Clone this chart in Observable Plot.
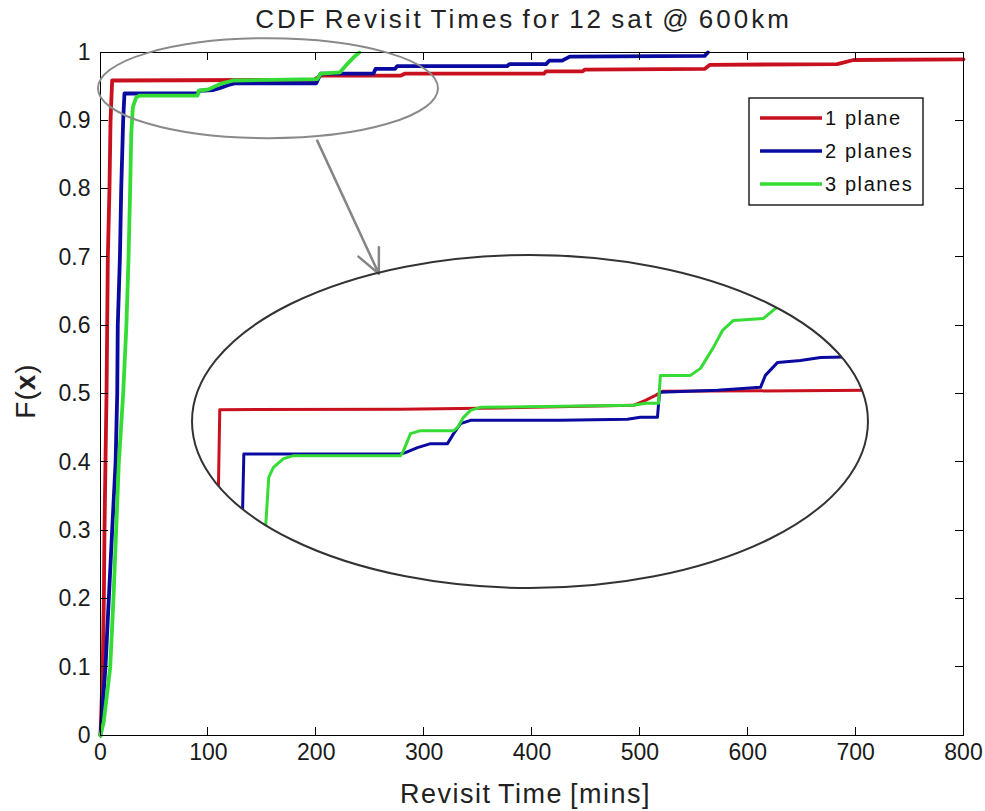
<!DOCTYPE html>
<html>
<head>
<meta charset="utf-8">
<script src="https://cdn.jsdelivr.net/npm/d3@7"></script>
<script src="https://cdn.jsdelivr.net/npm/@observablehq/plot@0.6"></script>
<style>
  body { margin: 0; background: #fff; }
</style>
</head>
<body>
<div id="chart"></div>
<script>
// Axis ticks
const xTicks = [0, 100, 200, 300, 400, 500, 600, 700, 800];
const yTicks = [0, 0.1, 0.2, 0.3, 0.4, 0.5, 0.6, 0.7, 0.8, 0.9, 1];

// Series
const seriesNames = ["1 plane", "2 planes", "3 planes"];
const seriesColors = ["#c8101e", "#0a0aa0", "#35dc35"];

// Empirical CDFs of revisit time: [minutes, F(x)]
const plane1 = [
  [0, 0], [2.1, 0.1], [3.1, 0.2], [3.7, 0.3], [4.6, 0.4], [5.6, 0.5], [6.2, 0.6], [6.8, 0.7],
  [8.3, 0.8], [9.3, 0.9], [10.8, 0.959], [198, 0.960], [204, 0.966], [278, 0.966], [282, 0.969],
  [411, 0.969], [413, 0.9725], [447, 0.9725], [449, 0.975], [560, 0.976], [565, 0.982],
  [683, 0.983], [698, 0.989], [800, 0.99]
];
const plane2 = [
  [0, 0], [4.6, 0.1], [7.7, 0.2], [10.8, 0.3], [14, 0.4], [15.5, 0.5], [16, 0.6], [18, 0.7],
  [19.2, 0.8], [21, 0.9], [22.2, 0.94], [90, 0.94], [92, 0.944], [104, 0.945], [111, 0.948],
  [118, 0.952], [125, 0.955], [200, 0.955], [204, 0.969], [253, 0.969], [255, 0.976], [273, 0.976],
  [275, 0.98], [377, 0.98], [379, 0.983], [413, 0.983], [416, 0.988], [428, 0.988], [435, 0.994],
  [560, 0.995], [563, 1]
];
const plane3 = [
  [0, 0], [3, 0.02], [9, 0.1], [12, 0.2], [14.5, 0.3], [17, 0.4], [21, 0.5], [24, 0.6], [26, 0.7],
  [27.5, 0.8], [28.5, 0.88], [30, 0.92], [33, 0.934], [36, 0.937], [90, 0.937], [91, 0.944],
  [100, 0.946], [111, 0.954], [123, 0.959], [201, 0.961], [204, 0.969], [222, 0.971],
  [228.7, 0.983], [236, 0.995], [240, 1]
];

// Magnified view of the upper-left corner
const zoomX = [0, 320];
const zoomY = [0.9, 1.0];
const zoomPlane1 = [
  [10.5, 0.90], [12.3, 0.9315], [12.9, 0.9537], [98.5, 0.9538], [145.8, 0.9542], [208.8, 0.955],
  [214.4, 0.9565], [219.2, 0.958], [222.5, 0.9592], [320, 0.9595]
];
const zoomPlane2 = [
  [23.0, 0.90], [23.7, 0.9234], [24.3, 0.9404], [98.5, 0.9404], [100.8, 0.9408], [106.5, 0.9423],
  [112.7, 0.9435], [120.7, 0.9435], [123.6, 0.9465], [126.9, 0.9495], [131.6, 0.9505],
  [174.2, 0.9505], [205.9, 0.9508], [212, 0.9514], [220.1, 0.9514], [221.1, 0.9589],
  [248.5, 0.9595], [268.9, 0.9604], [271.2, 0.964], [277, 0.9679], [287.8, 0.9685],
  [297.3, 0.9694], [320, 0.9697]
];
const zoomPlane3 = [
  [33.8, 0.90], [34.6, 0.9184], [36.1, 0.9334], [38.3, 0.9364], [43.1, 0.939], [47.8, 0.9399],
  [98.5, 0.9399], [99.9, 0.9414], [103.2, 0.9465], [107.9, 0.9474], [123.6, 0.9474],
  [125.4, 0.9483], [128.3, 0.9514], [131.6, 0.9535], [136.3, 0.9544], [208.8, 0.955],
  [214.4, 0.9556], [220.6, 0.9556], [221.5, 0.964], [235.7, 0.964], [240.5, 0.9661],
  [246.6, 0.9724], [250.9, 0.9775], [256.1, 0.9805], [270.3, 0.9811], [276, 0.9841], [284, 0.988]
];

// Annotation geometry, in chart units (minutes, F)
const focusEllipse = {cx: 155.7, cy: 0.947, rx: 157.6, ry: 0.0732};
const zoomEllipse = {cx: 398.6, cy: 0.459, rx: 313.3, ry: 0.2438};
const pointer = {x1: 200.9, y1: 0.871, x2: 258, y2: 0.676};

const FONT = "'Liberation Sans', Arial, Helvetica, sans-serif";

function ellipseAt(e, {x, y}) {
  return {cx: x(e.cx), cy: y(e.cy), rx: x(e.cx + e.rx) - x(e.cx), ry: y(e.cy - e.ry) - y(e.cy)};
}

// Inward tick marks on all four sides of the box
function boxTicks(index, {x, y}, values, {width, height, marginLeft, marginRight, marginTop, marginBottom}) {
  const len = 8;
  const left = marginLeft, right = width - marginRight, top = marginTop, bottom = height - marginBottom;
  const g = d3.create("svg:g").attr("stroke", "#000").attr("stroke-width", 1).attr("shape-rendering", "crispEdges");
  for (const t of xTicks) {
    const px = x(t);
    g.append("line").attr("x1", px).attr("x2", px).attr("y1", bottom).attr("y2", bottom - len);
    g.append("line").attr("x1", px).attr("x2", px).attr("y1", top).attr("y2", top + len);
  }
  for (const t of yTicks) {
    const py = y(t);
    g.append("line").attr("y1", py).attr("y2", py).attr("x1", left).attr("x2", left + len);
    g.append("line").attr("y1", py).attr("y2", py).attr("x1", right).attr("x2", right - len);
  }
  return g.node();
}

// Title and axis labels
function labels(index, scales, values, {width, height, marginLeft, marginRight, marginTop, marginBottom}) {
  const midX = marginLeft + (width - marginLeft - marginRight) / 2;
  const g = d3.create("svg:g").attr("font-family", FONT).attr("fill", "#222");
  g.append("text").attr("x", midX - 8).attr("y", 28).attr("text-anchor", "middle")
    .attr("font-size", 26).attr("letter-spacing", 3).attr("word-spacing", -3)
    .text("CDF Revisit Times for 12 sat @ 600km");
  g.append("text").attr("x", midX - 6).attr("y", height - 8).attr("text-anchor", "middle")
    .attr("font-size", 27).attr("letter-spacing", 1.5).attr("word-spacing", -2)
    .text("Revisit Time [mins]");
  const yl = g.append("text").attr("transform", "translate(35,391) rotate(-90)")
    .attr("text-anchor", "middle").attr("font-size", 28).attr("letter-spacing", 1);
  yl.append("tspan").text("F(");
  yl.append("tspan").attr("font-weight", "bold").text("x");
  yl.append("tspan").text(")");
  return g.node();
}

// Legend box in the upper right of the plot area
function legend(index, scales, values, {width, marginRight, marginTop}) {
  const right = width - marginRight - 40, top = marginTop + 46;
  const w = 174, h = 107, left = right - w;
  const g = d3.create("svg:g").attr("font-family", FONT);
  g.append("rect").attr("x", left).attr("y", top).attr("width", w).attr("height", h)
    .attr("fill", "#fff").attr("stroke", "#000").attr("stroke-width", 1.3);
  seriesNames.forEach((name, i) => {
    const cy = top + 20 + i * 33;
    g.append("line").attr("x1", left + 11).attr("x2", left + 73).attr("y1", cy).attr("y2", cy)
      .attr("stroke", seriesColors[i]).attr("stroke-width", 3.5);
    g.append("text").attr("x", left + 76).attr("y", cy + 7).attr("font-size", 20)
      .attr("text-anchor", "start").attr("letter-spacing", 1.6).attr("fill", "#111").text(name);
  });
  return g.node();
}

// Grey ellipse marking the region that is magnified
function focusRing(index, scales) {
  const e = ellipseAt(focusEllipse, scales);
  return d3.create("svg:ellipse").attr("cx", e.cx).attr("cy", e.cy).attr("rx", e.rx).attr("ry", e.ry)
    .attr("fill", "none").attr("stroke", "#8a8a8a").attr("stroke-width", 2).node();
}

// Magnified view drawn with its own scales, clipped to a large ellipse
function zoomView(index, scales) {
  const e = ellipseAt(zoomEllipse, scales);
  const w = 2 * e.rx, h = 2 * e.ry;
  const zoomSeries = [zoomPlane1, zoomPlane2, zoomPlane3];
  const view = Plot.plot({
    width: w, height: h, margin: 0,
    x: {domain: zoomX, axis: null},
    y: {domain: zoomY, axis: null},
    marks: zoomSeries.map((s, i) => Plot.line(s, {x: d => d[0], y: d => d[1], stroke: seriesColors[i], strokeWidth: 3}))
  });
  const g = d3.create("svg:g").attr("transform", `translate(${e.cx - e.rx},${e.cy - e.ry})`);
  g.append("clipPath").attr("id", "zoom-clip").append("ellipse")
    .attr("cx", e.rx).attr("cy", e.ry).attr("rx", e.rx).attr("ry", e.ry);
  const body = g.append("g").attr("clip-path", "url(#zoom-clip)");
  for (const child of Array.from(view.childNodes)) {
    if (child.nodeName.toLowerCase() !== "style") body.node().appendChild(child);
  }
  g.append("ellipse").attr("cx", e.rx).attr("cy", e.ry).attr("rx", e.rx).attr("ry", e.ry)
    .attr("fill", "none").attr("stroke", "#333").attr("stroke-width", 2);
  return g.node();
}

const chart = Plot.plot({
  width: 985,
  height: 811,
  marginLeft: 100,
  marginRight: 22,
  marginTop: 52,
  marginBottom: 76,
  style: {fontFamily: FONT, color: "#1a1a1a", background: "#fff"},
  x: {domain: [0, 800]},
  y: {domain: [0, 1]},
  marks: [
    Plot.axisX({ticks: xTicks, tickSize: 0, tickPadding: 8, fontSize: 23, label: null, tickFormat: d => String(d)}),
    Plot.axisY({ticks: yTicks, tickSize: 0, tickPadding: 10, fontSize: 23, label: null, tickFormat: d => String(d)}),
    Plot.line(plane1, {x: d => d[0], y: d => d[1], stroke: seriesColors[0], strokeWidth: 3.8}),
    Plot.line(plane2, {x: d => d[0], y: d => d[1], stroke: seriesColors[1], strokeWidth: 3.8}),
    Plot.line(plane3, {x: d => d[0], y: d => d[1], stroke: seriesColors[2], strokeWidth: 3.8}),
    Plot.frame({stroke: "#000", strokeWidth: 1}),
    boxTicks,
    focusRing,
    legend,
    Plot.arrow([pointer], {x1: "x1", y1: "y1", x2: "x2", y2: "y2", stroke: "#858585", strokeWidth: 2.5, headLength: 16, headAngle: 50}),
    zoomView,
    labels
  ]
});

document.getElementById("chart").appendChild(chart);
</script>
</body>
</html>
